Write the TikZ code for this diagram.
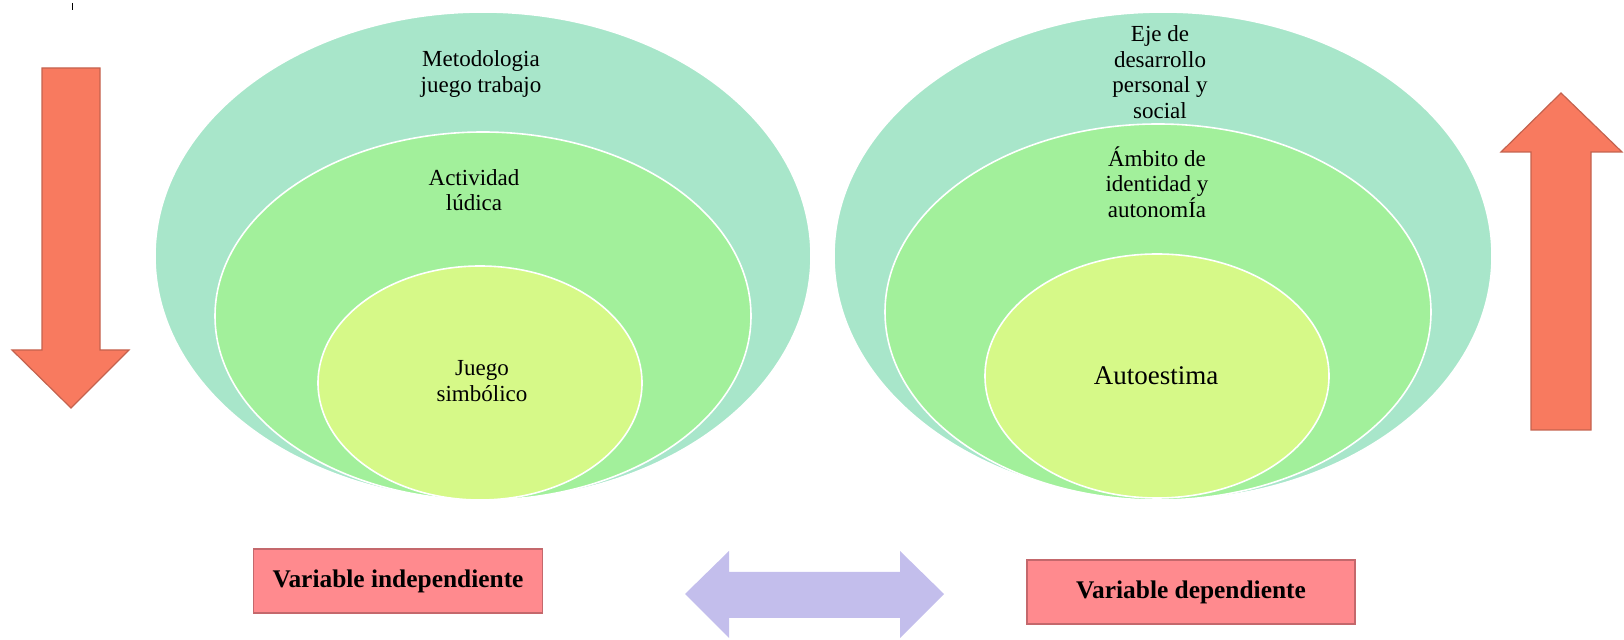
\documentclass[tikz,border=0pt]{standalone}
\usepackage{fontspec}
\setmainfont{Liberation Serif}
\usepackage{tikz}
\usetikzlibrary{shapes.geometric,positioning}
\definecolor{ejegreen}{RGB}{168,230,202}
\definecolor{midgreen}{RGB}{162,240,155}
\definecolor{limegreen}{RGB}{214,249,136}
\definecolor{arrowred}{RGB}{248,122,95}
\definecolor{arrowedge}{RGB}{196,98,78}
\definecolor{varpink}{RGB}{255,138,142}
\definecolor{varedge}{RGB}{196,104,108}
\definecolor{lavender}{RGB}{195,190,236}

\begin{document}
\begin{tikzpicture}[x=0.5pt,y=-0.5pt]
    \tikzstyle{ring}=[ellipse,draw=white,line width=0.8pt,inner sep=0pt] %
    \tikzstyle{outer}=[ring,fill=ejegreen] %
    \tikzstyle{middle}=[ring,fill=midgreen] %
    \tikzstyle{inner}=[ring,fill=limegreen] %
    \tikzstyle{txt}=[align=center,inner sep=0pt,%
    font=\fontsize{11.5}{12.8}\selectfont] %
    \tikzstyle{varbox}=[rectangle,draw=varedge,fill=varpink,line width=0.6pt,%
    font=\fontsize{12.7}{15}\selectfont\bfseries] %
    \tikzstyle{bigarrow}=[fill=arrowred,draw=arrowedge,line width=0.6pt] %

    \useasboundingbox (0,0) rectangle (1624,640);
    \draw[line width=0.5pt] (72,3) -- (72,10);

    % left side
    \node[outer,minimum width=328pt,minimum height=244pt] (LOUT) at (483,256) {};
    \node[middle,minimum width=268pt,minimum height=184pt] (LMID) at (483,316) {};
    \node[inner,minimum width=162pt,minimum height=117pt] (LIN) at (480,383) {};

    \node[txt] (metodo) at (481,74) {Metodologia\\juego trabajo};
    \node[txt] (ludica) at (474,190) {Actividad\\lúdica};
    \node[txt] (simbol) at (482,381) {Juego\\simbólico};

    % right side
    \node[outer,minimum width=329pt,minimum height=244pt] (ROUT) at (1163,256) {};
    \node[middle,minimum width=273pt,minimum height=188pt] (RMID) at (1158,312) {};
    \node[inner,minimum width=172pt,minimum height=122pt] (RIN) at (1157,376) {};

    \node[txt] (eje) at (1160,72) {Eje de\\desarrollo\\personal y\\social};
    \node[txt] (ambito) at (1157,182) {Ámbito de\\identidad y\\autonomÍa};
    \node[txt,font=\fontsize{13.5}{15}\selectfont] (autoest) at (1156,376) {Autoestima};

    % block arrows
    \draw[bigarrow] (42,68) -- (100,68) -- (100,350) -- (129,350) -- (71,408)
      -- (12,350) -- (42,350) -- cycle;
    \draw[bigarrow] (1531,430) -- (1591,430) -- (1591,152) -- (1622,152)
      -- (1561,93) -- (1501,152) -- (1531,152) -- cycle;

    \node[varbox,minimum width=144.5pt,minimum height=32pt] (indep) at (398,581)
      {Variable independiente};
    \node[varbox,minimum width=164pt,minimum height=32pt] (dep) at (1191,592)
      {Variable dependiente};

    \fill[lavender] (685,594) -- (729,551) -- (729,572) -- (900,572) -- (900,551)
      -- (944,594) -- (900,638) -- (900,618) -- (729,618) -- (729,638) -- cycle;
\end{tikzpicture}
\end{document}
